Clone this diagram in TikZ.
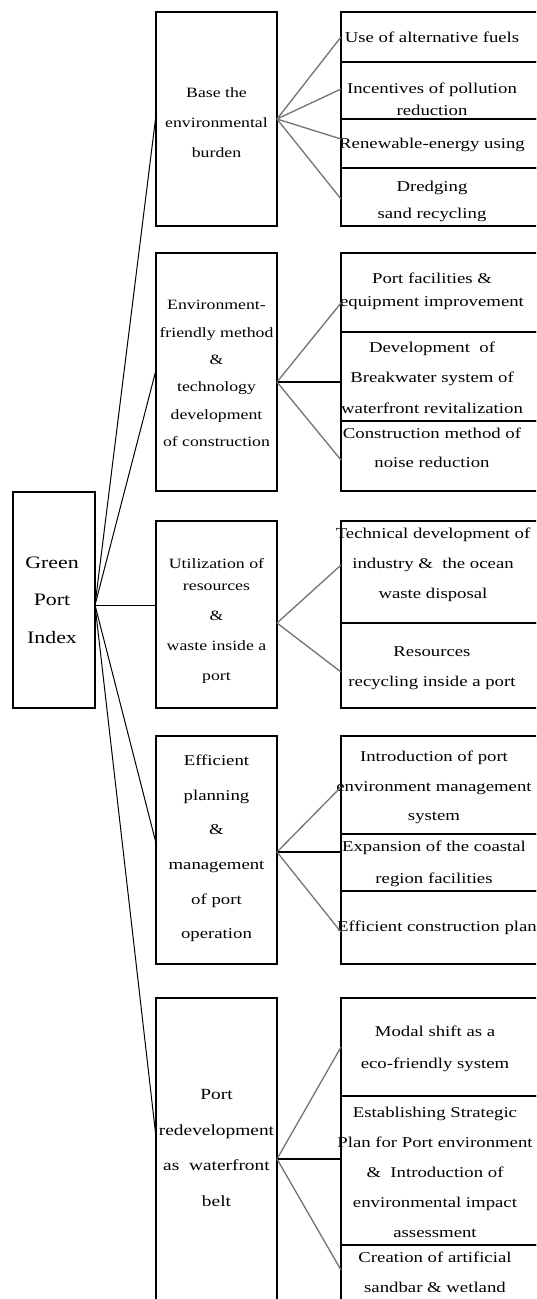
\documentclass[tikz,border=0pt]{standalone}
\usepackage{fontspec}
\setmainfont{Liberation Serif}[FakeStretch=1.25]
\usetikzlibrary{calc}
\begin{document}
\begin{tikzpicture}[x=1pt,y=-1pt,
  box/.style={draw, line width=1.3pt, anchor=north west, inner sep=0pt, outer sep=0pt},
  lbl/.style={align=center, inner sep=0pt},
  fs/.style 2 args={font=\fontsize{#1}{#2}\selectfont},
  trunk/.style={line width=1pt, black},
  twig/.style={line width=1.3pt, black!55},
  flat/.style={line width=1.1pt, black}]
\useasboundingbox (0,0) rectangle (536,1299);
\clip (0,0) rectangle (536,1299);
\fill[white] (0,0) rectangle (536,1299);

% root
\node[box, minimum width=82pt, minimum height=216pt] (gpi) at (13,492) {};
\node[lbl, fs={17.5}{37.5}] (tgpi) at (52,600) {Green\\Port\\Index};

% middle column
\node[box, minimum width=121pt, minimum height=214pt] (b1) at (156,12) {};
\node[box, minimum width=121pt, minimum height=238pt] (b2) at (156,253) {};
\node[box, minimum width=121pt, minimum height=187pt] (b3) at (156,521) {};
\node[box, minimum width=121pt, minimum height=228pt] (b4) at (156,736) {};
\node[box, minimum width=121pt, minimum height=322pt] (b5) at (156,998) {};

\node[lbl, fs={14.2}{30}] (tb1) at (216.5,123) {Base the\\environmental\\burden};
\node[lbl, fs={14.2}{27.4}] (tb2) at (216.5,373.5) {Environment-\\friendly method\\\&\\technology\\development\\of construction};
\node[lbl, fs={14.2}{30}] (tb3) at (216.5,621) {Utilization of\\[-8pt]resources\\\&\\waste inside a\\port};
\node[lbl, fs={15}{34.6}] (tb4) at (216.5,848.5) {Efficient\\planning\\\&\\management\\of port\\operation};
\node[lbl, fs={15.5}{35.5}] (tb5) at (216.5,1148) {Port\\redevelopment\\as~~waterfront\\belt};

% right column rows
\node[box, minimum width=204pt, minimum height=50pt] (r11) at (341,12) {};
\node[box, minimum width=204pt, minimum height=57pt] (r12) at (341,62) {};
\node[box, minimum width=204pt, minimum height=49pt] (r13) at (341,119) {};
\node[box, minimum width=204pt, minimum height=58pt] (r14) at (341,168) {};
\node[box, minimum width=204pt, minimum height=79pt] (r21) at (341,253) {};
\node[box, minimum width=204pt, minimum height=89pt] (r22) at (341,332) {};
\node[box, minimum width=204pt, minimum height=70pt] (r23) at (341,421) {};
\node[box, minimum width=204pt, minimum height=102pt] (r31) at (341,521) {};
\node[box, minimum width=204pt, minimum height=85pt] (r32) at (341,623) {};
\node[box, minimum width=204pt, minimum height=98pt] (r41) at (341,736) {};
\node[box, minimum width=204pt, minimum height=57pt] (r42) at (341,834) {};
\node[box, minimum width=204pt, minimum height=73pt] (r43) at (341,891) {};
\node[box, minimum width=204pt, minimum height=98pt] (r51) at (341,998) {};
\node[box, minimum width=204pt, minimum height=149pt] (r52) at (341,1096) {};
\node[box, minimum width=204pt, minimum height=75pt] (r53) at (341,1245) {};

\node[lbl, fs={15}{30}] (t11) at (432,37) {Use of alternative fuels};
\node[lbl, fs={15}{22}] (t12) at (432,99) {Incentives of pollution\\reduction};
\node[lbl, fs={15}{30}] (t13) at (432,145) {Renewable-energy using};
\node[lbl, fs={15}{27}] (t14) at (432,201.5) {Dredging\\sand recycling};
\node[lbl, fs={15}{23}] (t21) at (432,291.5) {Port facilities \&\\equipment improvement};
\node[lbl, fs={15}{30.5}] (t22) at (432,377.5) {Development~~of\\Breakwater system of\\waterfront revitalization};
\node[lbl, fs={15}{29}] (t23) at (432,447.5) {Construction method of\\noise reduction};
\node[lbl, fs={15}{30}] (t31) at (433,565) {Technical development of\\industry \&~~the ocean\\waste disposal};
\node[lbl, fs={15}{30}] (t32) at (432,668) {Resources\\recycling inside a port};
\node[lbl, fs={15}{29.5}] (t41) at (434,787.5) {Introduction of port\\environment management\\system};
\node[lbl, fs={15}{32}] (t42) at (434,864) {Expansion of the coastal\\region facilities};
\node[lbl, fs={15}{30}] (t43) at (437,928) {Efficient construction plan};
\node[lbl, fs={15}{32}] (t51) at (435,1049) {Modal shift as a\\eco-friendly system};
\node[lbl, fs={15}{30}] (t52) at (435,1172) {Establishing Strategic\\Plan for Port environment\\\&~~Introduction of\\environmental impact\\assessment};
\node[lbl, fs={15}{30}] (t53) at (435,1272) {Creation of artificial\\sandbar \& wetland};

% connectors from root
\coordinate (gj) at ([yshift=-5pt]gpi.east);
\draw[trunk] (gj) -- ([yshift=4pt]b1.west);
\draw[trunk] (gj) -- ([yshift=2pt]b2.west);
\draw[trunk] (gj) -- ([yshift=9.5pt]b3.west);
\draw[trunk] (gj) -- ([yshift=7pt]b4.west);
\draw[trunk] (gj) -- ([yshift=22pt]b5.west);

% connectors to right column
\draw[twig] (b1.east) -- (r11.west);
\draw[twig] (b1.east) -- ([yshift=1.5pt]r12.west);
\draw[twig] (b1.east) -- ([yshift=4.5pt]r13.west);
\draw[twig] (b1.east) -- ([yshift=-2pt]r14.west);

\coordinate (j2) at ([yshift=-10pt]b2.east);
\draw[twig] (j2) -- ([yshift=-10.5pt]r21.west);
\draw[flat] (j2) -- ([yshift=-5.5pt]r22.west);
\draw[twig] (j2) -- ([yshift=-4pt]r23.west);

\coordinate (j3) at ([yshift=-8.5pt]b3.east);
\draw[twig] (j3) -- ([yshift=7pt]r31.west);
\draw[twig] (j3) -- ([yshift=-6.5pt]r32.west);

\coordinate (j4) at ([yshift=-2pt]b4.east);
\draw[twig] (j4) -- ([yshift=-2pt]r41.west);
\draw[flat] (j4) -- ([yshift=10.5pt]r42.west);
\draw[twig] (j4) -- ([yshift=-4.5pt]r43.west);

\draw[twig] (b5.east) -- (r51.west);
\draw[flat] (b5.east) -- ([yshift=11.5pt]r52.west);
\draw[twig] (b5.east) -- ([yshift=12.5pt]r53.west);
\end{tikzpicture}
\end{document}
